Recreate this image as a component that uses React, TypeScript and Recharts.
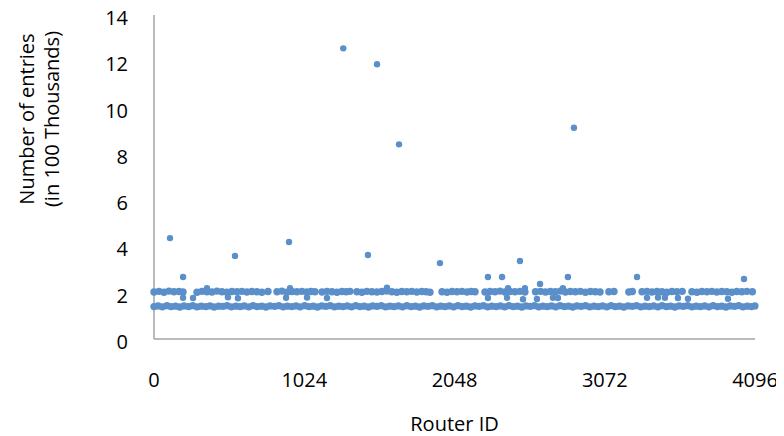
import React from "react";
import { ScatterChart, Scatter, XAxis, YAxis, ZAxis } from "recharts";

// Router ID / number of entries (in 100 thousands)
const baseBand: [number, number][] = [
  [0, 1.4], [28, 1.43], [57, 1.39], [88, 1.44], [116, 1.4], [147, 1.42], [176, 1.38], [205, 1.43],
  [236, 1.4], [264, 1.44], [293, 1.39], [322, 1.42], [353, 1.4], [381, 1.43], [410, 1.38], [441, 1.42],
  [470, 1.41], [498, 1.44], [527, 1.39], [558, 1.42], [587, 1.4], [615, 1.43], [646, 1.39], [675, 1.44],
  [703, 1.4], [734, 1.42], [763, 1.38], [791, 1.43], [822, 1.41], [851, 1.44], [880, 1.39], [908, 1.42],
  [939, 1.4], [968, 1.43], [996, 1.39], [1027, 1.44], [1056, 1.4], [1085, 1.42], [1114, 1.38], [1143, 1.43],
  [1172, 1.41], [1201, 1.44], [1230, 1.39], [1259, 1.42], [1288, 1.4], [1317, 1.43], [1346, 1.39], [1375, 1.44],
  [1404, 1.4], [1433, 1.42], [1462, 1.38], [1491, 1.43], [1520, 1.41], [1549, 1.44], [1578, 1.39], [1607, 1.42],
  [1636, 1.4], [1665, 1.43], [1694, 1.39], [1723, 1.44], [1752, 1.4], [1781, 1.42], [1810, 1.38], [1839, 1.43],
  [1868, 1.41], [1897, 1.44], [1926, 1.39], [1955, 1.42], [1984, 1.4], [2013, 1.43], [2042, 1.39], [2071, 1.44],
  [2100, 1.4], [2129, 1.42], [2158, 1.38], [2187, 1.43], [2216, 1.41], [2245, 1.44], [2274, 1.39], [2303, 1.42],
  [2332, 1.4], [2361, 1.43], [2390, 1.39], [2419, 1.44], [2448, 1.4], [2477, 1.42], [2506, 1.38], [2535, 1.43],
  [2564, 1.41], [2593, 1.44], [2622, 1.39], [2651, 1.42], [2680, 1.4], [2709, 1.43], [2738, 1.39], [2767, 1.44],
  [2796, 1.4], [2825, 1.42], [2854, 1.38], [2883, 1.43], [2912, 1.41], [2941, 1.44], [2970, 1.39], [2999, 1.42],
  [3028, 1.4], [3057, 1.43], [3086, 1.39], [3115, 1.44], [3144, 1.4], [3173, 1.42], [3202, 1.38], [3231, 1.43],
  [3260, 1.41], [3289, 1.44], [3318, 1.39], [3347, 1.42], [3376, 1.4], [3405, 1.43], [3434, 1.39], [3463, 1.44],
  [3492, 1.4], [3521, 1.42], [3550, 1.38], [3579, 1.43], [3608, 1.41], [3637, 1.44], [3666, 1.39], [3695, 1.42],
  [3724, 1.4], [3753, 1.43], [3782, 1.39], [3811, 1.44], [3840, 1.4], [3869, 1.42], [3898, 1.38], [3927, 1.43],
  [3956, 1.41], [3985, 1.44], [4014, 1.39], [4043, 1.42], [4072, 1.4], [4095, 1.43],
];

const upperBand: [number, number][] = [
  [0, 2.03], [34, 2.06], [68, 2.02], [102, 2.07], [136, 2.04], [170, 2.05], [198, 2.03],
  [293, 2.02], [327, 2.06], [361, 2.04], [395, 2.03], [429, 2.07], [463, 2.04], [497, 2.02], [531, 2.05],
  [565, 2.04], [599, 2.06], [633, 2.03], [667, 2.05], [701, 2.04], [735, 2.02], [777, 2.05],
  [838, 2.04], [872, 2.07], [906, 2.02], [940, 2.05], [974, 2.04], [1008, 2.06], [1042, 2.03], [1070, 2.05], [1097, 2.04],
  [1145, 2.03], [1179, 2.06], [1213, 2.04], [1247, 2.02], [1281, 2.05], [1310, 2.04], [1336, 2.06],
  [1383, 2.04], [1417, 2.02], [1451, 2.06], [1485, 2.04], [1519, 2.03], [1553, 2.05], [1587, 2.07], [1621, 2.04],
  [1655, 2.02], [1689, 2.05], [1723, 2.04], [1757, 2.06], [1791, 2.03], [1825, 2.05], [1855, 2.04], [1881, 2.02],
  [1963, 2.04], [1997, 2.02], [2031, 2.05], [2065, 2.04], [2099, 2.06], [2133, 2.03], [2162, 2.05], [2188, 2.04],
  [2256, 2.03], [2290, 2.05], [2324, 2.04], [2358, 2.07], [2392, 2.03], [2426, 2.05], [2460, 2.04], [2494, 2.06], [2528, 2.03],
  [2600, 2.04], [2634, 2.06], [2668, 2.03], [2702, 2.05], [2736, 2.04], [2770, 2.07], [2804, 2.03], [2838, 2.05],
  [2872, 2.04], [2906, 2.06], [2940, 2.02], [2974, 2.05], [3008, 2.04], [3040, 2.03],
  [3100, 2.04], [3135, 2.05],
  [3236, 2.03], [3260, 2.05],
  [3326, 2.04], [3360, 2.06], [3394, 2.03], [3428, 2.05], [3462, 2.04], [3496, 2.02], [3530, 2.05], [3564, 2.04], [3600, 2.06],
  [3666, 2.04], [3700, 2.02], [3734, 2.05], [3768, 2.04], [3802, 2.06], [3836, 2.03], [3870, 2.05], [3904, 2.04],
  [3938, 2.02], [3972, 2.05], [4006, 2.04], [4040, 2.06], [4078, 2.04],
];

const midPoints: [number, number][] = [
  [198, 1.78], [266, 1.77], [504, 1.8], [572, 1.76], [900, 1.78], [1043, 1.79], [1179, 1.77],
  [2276, 1.77], [2406, 1.78], [2515, 1.72], [2610, 1.73], [2719, 1.78], [2753, 1.77],
  [3360, 1.78], [3435, 1.79], [3482, 1.78], [3571, 1.77], [3639, 1.74], [3912, 1.74],
];

const highBand: [number, number][] = [
  [361, 2.2], [927, 2.2], [1588, 2.22], [2413, 2.2], [2528, 2.2], [2631, 2.38], [2787, 2.2],
];

const outliers: [number, number][] = [
  [109, 4.36], [198, 2.68], [552, 3.59], [920, 4.19], [1290, 12.56], [1458, 3.63], [1520, 11.87],
  [1670, 8.41], [1949, 3.28], [2276, 2.68], [2372, 2.68], [2494, 3.37], [2821, 2.68], [2862, 9.13],
  [3292, 2.68], [4021, 2.59],
];

const xTicks = [0, 1024, 2048, 3072, 4096];
const yTicks = [0, 2, 4, 6, 8, 10, 12, 14];

const toPts = (arr: [number, number][]) => arr.map(([x, y]) => ({ x, y }));
const bandPoints = toPts([...baseBand, ...upperBand]);
const loosePoints = toPts([...midPoints, ...highBand, ...outliers]);

const FONT = "'Open Sans', sans-serif";
const DOT = "#5b8fc9";

const XTick = (props: any) => {
  const { x, y, payload } = props;
  return (
    <text x={x} y={y} dy={14} textAnchor="middle" fontFamily={FONT} fontSize={20} fill="#000">
      {payload.value}
    </text>
  );
};

const YTick = (props: any) => {
  const { x, y, payload } = props;
  return (
    <text x={x} y={y} dy={10} textAnchor="end" fontFamily={FONT} fontSize={20} fill="#000">
      {payload.value}
    </text>
  );
};

const BandDot = (props: any) => <circle cx={props.cx} cy={props.cy} r={3.7} fill={DOT} />;
const Dot = (props: any) => <circle cx={props.cx} cy={props.cy} r={3.2} fill={DOT} />;

const XLabel = (props: any) => {
  const { viewBox } = props;
  return (
    <text
      x={viewBox.x + viewBox.width / 2}
      y={viewBox.y + 92}
      textAnchor="middle"
      fontFamily={FONT}
      fontSize={20}
      fill="#000"
    >
      Router ID
    </text>
  );
};

const YLabel = (props: any) => {
  const { viewBox } = props;
  const cy = viewBox.y + viewBox.height / 2 - 58;
  const x1 = 33.5;
  const x2 = 58.5;
  return (
    <g>
      <text x={x1} y={cy} transform={`rotate(-90, ${x1}, ${cy})`} textAnchor="middle" fontFamily={FONT} fontSize={20} fill="#000">
        Number of entries
      </text>
      <text x={x2} y={cy} transform={`rotate(-90, ${x2}, ${cy})`} textAnchor="middle" fontFamily={FONT} fontSize={20} fill="#000">
        (in 100 Thousands)
      </text>
    </g>
  );
};

export default function App() {
  return (
    <div style={{ width: 784, height: 436, marginLeft: -8, marginTop: -8, background: "#fff" }}>
      <ScatterChart width={784} height={436} margin={{ top: 15, right: 29, left: 0, bottom: 0 }}>
        <XAxis
          type="number"
          dataKey="x"
          domain={[0, 4096]}
          ticks={xTicks}
          tickLine={false}
          tickSize={0}
          tickMargin={34}
          height={97}
          axisLine={{ stroke: "#a3a3a3", strokeWidth: 1.5 }}
          tick={<XTick />}
          interval={0}
          label={<XLabel />}
        />
        <YAxis
          type="number"
          dataKey="y"
          domain={[0, 14]}
          ticks={yTicks}
          tickLine={false}
          tickSize={0}
          tickMargin={26}
          width={154}
          axisLine={{ stroke: "#a3a3a3", strokeWidth: 1.5 }}
          tick={<YTick />}
          interval={0}
          label={<YLabel />}
        />
        <ZAxis range={[32, 32]} />
        <Scatter data={bandPoints} fill={DOT} shape={<BandDot />} isAnimationActive={false} />
        <Scatter data={loosePoints} fill={DOT} shape={<Dot />} isAnimationActive={false} />
      </ScatterChart>
    </div>
  );
}
